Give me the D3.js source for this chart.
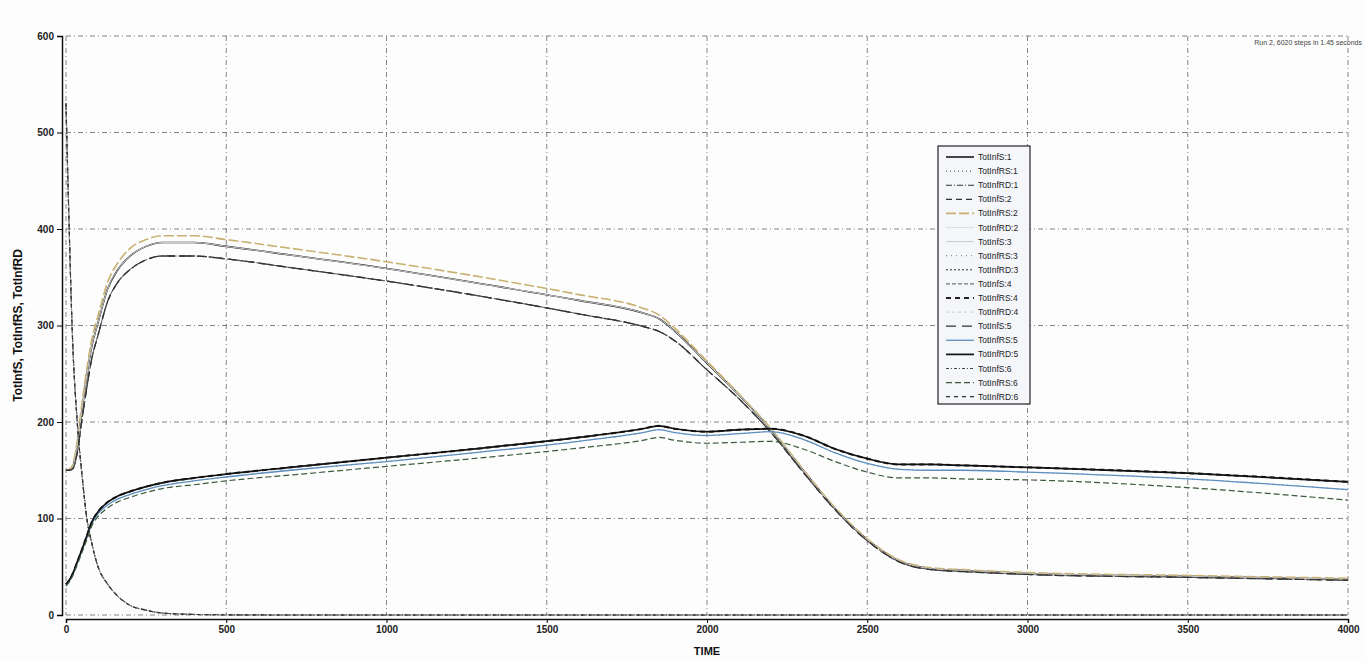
<!DOCTYPE html>
<html>
<head>
    <meta charset="utf-8">
    <title>TotInf chart</title>
    <script src="https://cdn.jsdelivr.net/npm/d3@7"></script>
    <style type="text/css">
        body { margin: 0; background: #fdfdfd; font-family: "Liberation Sans", Arial, sans-serif; }
        .tick text { font-size: 10px; font-weight: bold; fill: #222; }
        .grid line { stroke: #666; stroke-dasharray: 5,3,1,3; stroke-width: 0.8; }
        .axisTitle { font-weight: bold; fill: #111; }
        .legendLabel { font-size: 8.5px; fill: #222; }
    </style>
</head>
<body>
<div id="chart"></div>
<script>
// time points
var times = [0, 10, 20, 35, 50, 65, 80, 100, 130, 160, 200, 250, 300, 400, 500, 700,
             1000, 1300, 1600, 1800, 1850, 1900, 2000, 2100, 2200, 2300, 2400, 2500,
             2600, 2700, 2800, 3000, 3500, 4000];

// fast falling curves
var decay = [530, 400, 290, 200, 145, 100, 75, 50, 32, 20, 10, 5, 2, 0.6, 0.2, 0,
             0, 0, 0, 0, 0, 0, 0, 0, 0, 0, 0, 0, 0, 0, 0, 0, 0, 0];

// the big hump, three visible variants
var humpMain = [150, 150, 153, 175, 213, 248, 278, 303, 338, 357, 372, 382, 386, 386, 382, 373,
                359, 343, 326, 313, 307, 294, 261, 228, 192, 150, 110, 78,
                56, 48, 46, 43, 40, 37];
var humpHigh = [150, 151, 155, 180, 220, 255, 285, 310, 345, 364, 380, 389, 393, 393, 389, 380,
                366, 350, 332, 318, 311, 297, 263, 229, 193, 151, 111, 79,
                57, 49, 47, 44, 41, 38];
var humpLow  = [150, 150, 151, 168, 203, 236, 265, 290, 325, 344, 358, 368, 372, 372, 369, 360,
                346, 330, 312, 299, 294, 284, 254, 224, 189, 148, 109, 77,
                55, 47, 45, 42, 39, 36];

// slowly rising curves
var riseMain  = [32, 36, 42, 55, 68, 82, 96, 107, 117, 123, 128, 133, 137, 142, 146, 153,
                 163, 173, 184, 193, 196, 193, 190, 192, 193, 186, 172, 162,
                 156, 156, 155, 153, 147, 138];
var riseBlue  = [31, 35, 41, 54, 67, 80, 94, 105, 114, 120, 125, 130, 134, 139, 143, 150,
                 159, 169, 180, 189, 192, 189, 186, 188, 190, 182, 168, 157,
                 151, 150, 150, 148, 141, 130];
var riseGreen = [30, 34, 40, 52, 65, 78, 92, 102, 111, 117, 122, 127, 131, 135, 139, 145,
                 154, 163, 173, 181, 184, 181, 178, 179, 180, 172, 159, 148,
                 142, 142, 141, 140, 132, 119];

var seriesNames = ['TotInfS:1', 'TotInfRS:1', 'TotInfRD:1', 'TotInfS:2', 'TotInfRS:2', 'TotInfRD:2',
                   'TotInfS:3', 'TotInfRS:3', 'TotInfRD:3', 'TotInfS:4', 'TotInfRS:4', 'TotInfRD:4',
                   'TotInfS:5', 'TotInfRS:5', 'TotInfRD:5', 'TotInfS:6', 'TotInfRS:6', 'TotInfRD:6'];
var seriesData = [humpMain, riseMain, decay, humpLow, humpHigh, decay,
                  humpMain, riseBlue, decay, humpLow, riseMain, decay,
                  humpLow, riseBlue, riseMain, decay, riseGreen, decay];

var xTicks = d3.range(0, 4001, 500),
    yTicks = d3.range(0, 601, 100);

var width = 1366, height = 662;

// stroke style per series (legend order)
var styles = [
    {c: '#1a1a1a', d: null, w: 1.6}, {c: '#333', d: '1,3', w: 1}, {c: '#333', d: '6,2,1,2', w: 1.1},
    {c: '#333', d: '6,4', w: 1.3}, {c: '#c8b070', d: '10,3', w: 1.6}, {c: '#ddd', d: null, w: 1},
    {c: '#ccc', d: null, w: 1}, {c: '#777', d: '1,4', w: 1}, {c: '#333', d: '2,2', w: 1},
    {c: '#555', d: '4,2', w: 1}, {c: '#222', d: '5,4', w: 2}, {c: '#ccc', d: '3,3', w: 1},
    {c: '#333', d: '10,6', w: 1.3}, {c: '#5b8fc0', d: null, w: 1.3}, {c: '#111', d: null, w: 1.7},
    {c: '#444', d: '3,2,1,2', w: 1}, {c: '#3c5a3c', d: '6,3', w: 1.2}, {c: '#333', d: '4,4', w: 1.2}
];

var x = d3.scaleLinear().domain([0, 4000]).range([66, 1348]);
var y = d3.scaleLinear().domain([0, 600]).range([615, 36]);

var svg = d3.select('#chart').append('svg')
            .attr('width', width).attr('height', height);

// grid
var grid = svg.append('g').attr('class', 'grid');
grid.selectAll('.gx').data(xTicks).enter().append('line')
    .attr('x1', function(d) { return x(d); }).attr('x2', function(d) { return x(d); })
    .attr('y1', y(600)).attr('y2', y(0));
grid.selectAll('.gy').data(yTicks).enter().append('line')
    .attr('x1', x(0)).attr('x2', x(4000))
    .attr('y1', function(d) { return y(d); }).attr('y2', function(d) { return y(d); });

// axes, drawn a little off the plot like the original
svg.append('g')
   .attr('transform', 'translate(' + (x(0) - 4) + ',0)')
   .call(d3.axisLeft(y).tickValues(yTicks).tickSize(5).tickFormat(d3.format('d')))
   .call(function(g) { g.select('.domain').attr('stroke', '#111').attr('stroke-width', 1.5); });

svg.append('g')
   .attr('transform', 'translate(0,' + (y(0) + 4) + ')')
   .call(d3.axisBottom(x).tickValues(xTicks).tickSize(4).tickFormat(d3.format('d')))
   .call(function(g) { g.select('.domain').attr('stroke', '#111').attr('stroke-width', 1.5); });

svg.append('text').attr('class', 'axisTitle')
   .attr('x', x(2000)).attr('y', 655)
   .attr('text-anchor', 'middle').attr('font-size', 11)
   .text('TIME');

svg.append('text').attr('class', 'axisTitle')
   .attr('transform', 'translate(22,' + y(300) + ') rotate(-90)')
   .attr('text-anchor', 'middle').attr('font-size', 12)
   .text('TotInfS, TotInfRS, TotInfRD');

svg.append('text')
   .attr('x', 1362).attr('y', 45)
   .attr('text-anchor', 'end').attr('font-size', 7).attr('fill', '#444')
   .text('Run 2, 6020 steps in 1.45 seconds');

// lines
var line = d3.line()
             .x(function(d, i) { return x(times[i]); })
             .y(function(d) { return y(d); })
             .curve(d3.curveMonotoneX);

svg.append('g').selectAll('path')
   .data(seriesData)
   .enter().append('path')
   .attr('d', line)
   .attr('fill', 'none')
   .attr('stroke', function(d, i) { return styles[i].c; })
   .attr('stroke-width', function(d, i) { return styles[i].w; })
   .attr('stroke-dasharray', function(d, i) { return styles[i].d; });

// legend
var lx = 938, ly = 146, rowH = 14.1;
svg.append('rect')
   .attr('x', lx).attr('y', ly)
   .attr('width', 92).attr('height', 258)
   .attr('fill', '#f4f6fa').attr('stroke', '#222').attr('stroke-width', 1.2);

var legend = svg.selectAll('.legend')
                .data(seriesNames)
                .enter().append('g')
                .attr('transform', function(d, i) { return 'translate(0,' + (ly + 11 + i * rowH) + ')'; });

legend.append('line')
      .attr('x1', lx + 8).attr('x2', lx + 36).attr('y1', 0).attr('y2', 0)
      .attr('stroke', function(d, i) { return styles[i].c; })
      .attr('stroke-width', function(d, i) { return styles[i].w; })
      .attr('stroke-dasharray', function(d, i) { return styles[i].d; });

legend.append('text')
      .attr('class', 'legendLabel')
      .attr('x', lx + 40).attr('y', 3)
      .text(function(d) { return d; });
</script>
</body>
</html>
